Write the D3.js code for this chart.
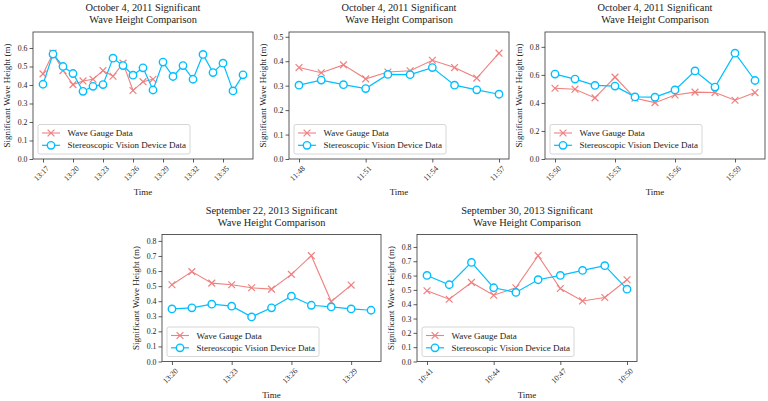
<!DOCTYPE html>
<html>
<head>
<meta charset="utf-8">
<script src="https://cdn.jsdelivr.net/npm/d3@7"></script>
<style>
  body { margin: 0; background: #fff; }
  text { font-family: "Liberation Serif", "Times New Roman", serif; fill: #222; }
</style>
</head>
<body>
<svg id="chart" width="768" height="401"></svg>
<script>
// ---- data ----
let seriesNames = ['Wave Gauge Data', 'Stereoscopic Vision Device Data']

let titleLines1 = ['October 4, 2011 Significant', 'Wave Height Comparison']
let gaugeTimes1 = ['13:17','13:18','13:19','13:20','13:21','13:22','13:23','13:24','13:25','13:26','13:27','13:28']
let gaugeVals1  = [0.46, 0.572, 0.478, 0.402, 0.422, 0.431, 0.478, 0.447, 0.518, 0.37, 0.418, 0.431]
let stereoTimes1 = ['13:17','13:18','13:19','13:20','13:21','13:22','13:23','13:24','13:25','13:26','13:27','13:28','13:29','13:30','13:31','13:32','13:33','13:34','13:35','13:36','13:37']
let stereoVals1  = [0.404, 0.567, 0.5, 0.462, 0.366, 0.393, 0.402, 0.545, 0.505, 0.453, 0.493, 0.373, 0.524, 0.446, 0.505, 0.431, 0.565, 0.467, 0.518, 0.368, 0.455]
let xTicks1 = ['13:17','13:20','13:23','13:26','13:29','13:32','13:35']
let yTicks1 = [0, 0.1, 0.2, 0.3, 0.4, 0.5, 0.6]

let titleLines2 = ['October 4, 2011 Significant', 'Wave Height Comparison']
let gaugeTimes2 = ['11:48','11:49','11:50','11:51','11:52','11:53','11:54','11:55','11:56','11:57']
let gaugeVals2  = [0.374, 0.353, 0.385, 0.328, 0.356, 0.361, 0.404, 0.374, 0.331, 0.433]
let stereoTimes2 = ['11:48','11:49','11:50','11:51','11:52','11:53','11:54','11:55','11:56','11:57']
let stereoVals2  = [0.302, 0.323, 0.304, 0.288, 0.346, 0.345, 0.374, 0.302, 0.283, 0.265]
let xTicks2 = ['11:48','11:51','11:54','11:57']
let yTicks2 = [0, 0.1, 0.2, 0.3, 0.4, 0.5]

let titleLines3 = ['October 4, 2011 Significant', 'Wave Height Comparison']
let gaugeTimes3 = ['15:50','15:51','15:52','15:53','15:54','15:55','15:56','15:57','15:58','15:59','16:00']
let gaugeVals3  = [0.505, 0.498, 0.436, 0.584, 0.434, 0.402, 0.457, 0.477, 0.474, 0.419, 0.474]
let stereoTimes3 = ['15:50','15:51','15:52','15:53','15:54','15:55','15:56','15:57','15:58','15:59','16:00']
let stereoVals3  = [0.606, 0.57, 0.525, 0.52, 0.443, 0.441, 0.493, 0.628, 0.513, 0.755, 0.56]
let xTicks3 = ['15:50','15:53','15:56','15:59']
let yTicks3 = [0, 0.2, 0.4, 0.6, 0.8]

let titleLines4 = ['September 22, 2013 Significant', 'Wave Height Comparison']
let gaugeTimes4 = ['13:20','13:21','13:22','13:23','13:24','13:25','13:26','13:27','13:28','13:29']
let gaugeVals4  = [0.509, 0.596, 0.52, 0.509, 0.489, 0.48, 0.578, 0.702, 0.398, 0.507]
let stereoTimes4 = ['13:20','13:21','13:22','13:23','13:24','13:25','13:26','13:27','13:28','13:29','13:30']
let stereoVals4  = [0.349, 0.356, 0.38, 0.367, 0.296, 0.356, 0.433, 0.373, 0.362, 0.349, 0.34]
let xTicks4 = ['13:20','13:23','13:26','13:29']
let yTicks4 = [0, 0.1, 0.2, 0.3, 0.4, 0.5, 0.6, 0.7, 0.8]

let titleLines5 = ['September 30, 2013 Significant', 'Wave Height Comparison']
let gaugeTimes5 = ['10:41','10:42','10:43','10:44','10:45','10:46','10:47','10:48','10:49','10:50']
let gaugeVals5  = [0.494, 0.435, 0.552, 0.463, 0.515, 0.739, 0.51, 0.423, 0.447, 0.571]
let stereoTimes5 = ['10:41','10:42','10:43','10:44','10:45','10:46','10:47','10:48','10:49','10:50']
let stereoVals5  = [0.601, 0.536, 0.692, 0.515, 0.482, 0.571, 0.601, 0.636, 0.669, 0.505]
let xTicks5 = ['10:41','10:44','10:47','10:50']
let yTicks5 = [0, 0.1, 0.2, 0.3, 0.4, 0.5, 0.6, 0.7, 0.8]

// ---- layout ----
let red = '#f08080'
let blue = '#00bfff'
let parseTime = d3.timeParse('%H:%M')
let fmtTime = d3.timeFormat('%H:%M')

let svg = d3.select('#chart')

let panels = [
  { box: [33, 32, 220, 127], title: titleLines1, gt: gaugeTimes1, gv: gaugeVals1, st: stereoTimes1, sv: stereoVals1, xt: xTicks1, yt: yTicks1 },
  { box: [289, 32, 220, 127], title: titleLines2, gt: gaugeTimes2, gv: gaugeVals2, st: stereoTimes2, sv: stereoVals2, xt: xTicks2, yt: yTicks2 },
  { box: [545, 32, 220, 127], title: titleLines3, gt: gaugeTimes3, gv: gaugeVals3, st: stereoTimes3, sv: stereoVals3, xt: xTicks3, yt: yTicks3 },
  { box: [162, 234.5, 219, 127], title: titleLines4, gt: gaugeTimes4, gv: gaugeVals4, st: stereoTimes4, sv: stereoVals4, xt: xTicks4, yt: yTicks4 },
  { box: [417, 234.5, 220, 127], title: titleLines5, gt: gaugeTimes5, gv: gaugeVals5, st: stereoTimes5, sv: stereoVals5, xt: xTicks5, yt: yTicks5 }
]

let xMark = (s) => `M${-s},${-s}L${s},${s}M${-s},${s}L${s},${-s}`

drawPanel = (p) => {
  let [left, top, w, h] = p.box
  let gauge = p.gt.map((t, i) => ({ t: parseTime(t), v: p.gv[i] }))
  let stereo = p.st.map((t, i) => ({ t: parseTime(t), v: p.sv[i] }))
  let all = gauge.concat(stereo)

  let tMin = d3.min(all, d => d.t), tMax = d3.max(all, d => d.t)
  let pad = (tMax - tMin) * 0.05
  let xScale = d3.scaleTime()
    .domain([new Date(+tMin - pad), new Date(+tMax + pad)])
    .range([left, left + w])
  let yScale = d3.scaleLinear()
    .domain([0, d3.max(all, d => d.v) * 1.2])
    .range([top + h, top])

  let g = svg.append('g')

  // title
  g.append('text')
    .attr('x', left + w / 2).attr('y', top - 21)
    .attr('text-anchor', 'middle').style('font-size', '10.4px')
    .text(p.title[0])
  g.append('text')
    .attr('x', left + w / 2).attr('y', top - 9)
    .attr('text-anchor', 'middle').style('font-size', '10.4px')
    .text(p.title[1])

  // axes
  let xAxis = d3.axisBottom(xScale)
    .tickValues(p.xt.map(parseTime))
    .tickFormat(fmtTime)
    .tickSizeOuter(0).tickSize(3.5)
  let xg = g.append('g')
    .attr('transform', 'translate(0,' + (top + h) + ')')
    .call(xAxis)
  xg.select('.domain').remove()
  xg.selectAll('line').attr('stroke', '#333').attr('stroke-width', 0.8)
  xg.selectAll('text')
    .attr('y', null).attr('dy', null)
    .attr('text-anchor', 'middle')
    .attr('dominant-baseline', 'central')
    .attr('transform', 'translate(-2,14.5) rotate(-45)')
    .style('font-size', '7.8px')
    .style('font-family', '"Liberation Serif", serif')
    .attr('fill', '#222')

  let yAxis = d3.axisLeft(yScale)
    .tickValues(p.yt)
    .tickFormat(d3.format('.1f'))
    .tickSizeOuter(0).tickSize(3.5)
  let yg = g.append('g')
    .attr('transform', 'translate(' + left + ',0)')
    .call(yAxis)
  yg.select('.domain').remove()
  yg.selectAll('line').attr('stroke', '#333').attr('stroke-width', 0.8)
  yg.selectAll('text')
    .attr('x', -5.5)
    .style('font-size', '7.8px')
    .style('font-family', '"Liberation Serif", serif')
    .attr('fill', '#222')

  g.append('rect')
    .attr('x', left).attr('y', top).attr('width', w).attr('height', h)
    .attr('fill', 'none').attr('stroke', '#333').attr('stroke-width', 0.8)

  // axis labels
  g.append('text')
    .attr('x', left + w / 2).attr('y', top + h + 36)
    .attr('text-anchor', 'middle').style('font-size', '9px')
    .text('Time')
  g.append('text')
    .attr('transform', 'translate(' + (left - 23) + ',' + (top + h / 2) + ') rotate(-90)')
    .attr('text-anchor', 'middle').style('font-size', '9px')
    .text('Significant Wave Height (m)')

  // series
  let line = d3.line().x(d => xScale(d.t)).y(d => yScale(d.v))

  g.append('path').datum(gauge)
    .attr('d', line).attr('fill', 'none')
    .attr('stroke', red).attr('stroke-width', 1.1)
  g.selectAll('.gx').data(gauge).enter().append('path')
    .attr('class', 'gx')
    .attr('d', xMark(3.4))
    .attr('transform', d => 'translate(' + xScale(d.t) + ',' + yScale(d.v) + ')')
    .attr('stroke', red).attr('stroke-width', 1.2).attr('fill', 'none')

  g.append('path').datum(stereo)
    .attr('d', line).attr('fill', 'none')
    .attr('stroke', blue).attr('stroke-width', 1.2)
  g.selectAll('.sc').data(stereo).enter().append('circle')
    .attr('class', 'sc')
    .attr('cx', d => xScale(d.t)).attr('cy', d => yScale(d.v))
    .attr('r', 3.7)
    .attr('fill', '#fff').attr('stroke', blue).attr('stroke-width', 1.4)

  // legend
  let lx = left + 5, ly = top + h - 5 - 29.5
  let lg = g.append('g').attr('transform', 'translate(' + lx + ',' + ly + ')')
  lg.append('rect')
    .attr('width', 152).attr('height', 29.5).attr('rx', 2)
    .attr('fill', '#fff').attr('fill-opacity', 0.8)
    .attr('stroke', '#ccc').attr('stroke-width', 0.8)
  seriesNames.forEach((name, i) => {
    let ry = 8.5 + i * 12.3
    let c = i == 0 ? red : blue
    lg.append('line')
      .attr('x1', 4).attr('x2', 22).attr('y1', ry).attr('y2', ry)
      .attr('stroke', c).attr('stroke-width', i == 0 ? 1.1 : 1.2)
    if (i == 0) {
      lg.append('path').attr('d', xMark(3.4))
        .attr('transform', 'translate(13,' + ry + ')')
        .attr('stroke', red).attr('stroke-width', 1.2)
    } else {
      lg.append('circle').attr('cx', 13).attr('cy', ry).attr('r', 3.7)
        .attr('fill', '#fff').attr('stroke', blue).attr('stroke-width', 1.4)
    }
    lg.append('text')
      .attr('x', 29.5).attr('y', ry).attr('dy', '0.34em')
      .style('font-size', '9px')
      .text(name)
  })
}

panels.forEach(drawPanel)
</script>
</body>
</html>
